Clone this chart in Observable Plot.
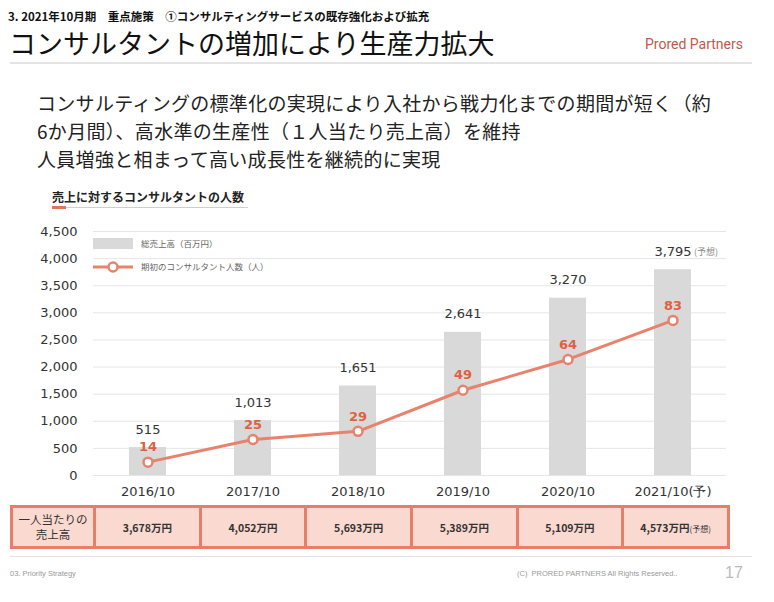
<!DOCTYPE html>
<html lang="ja">
<head>
<meta charset="utf-8">
<script src="https://cdn.jsdelivr.net/npm/d3@7"></script>
<script src="https://cdn.jsdelivr.net/npm/@observablehq/plot@0.6"></script>
<style>
  html, body { margin: 0; padding: 0; background: #fff; }
  #slide { position: relative; width: 774px; height: 602px; overflow: hidden; font-family: "Noto Sans CJK JP", "Noto Sans", sans-serif; color: #222; }
  .abs { position: absolute; white-space: nowrap; }
  #chart { position: absolute; left: 0; top: 215px; }
  #tbl { position: absolute; left: 10px; top: 505px; border-collapse: collapse; table-layout: fixed; width: 717px; }
  #tbl td { border: 3px solid #E4806A; background: #F9D9D0; text-align: center; font-size: 10.5px; font-weight: 700; color: #333; height: 38px; padding: 0; }
</style>
</head>
<body>
<div id="slide">
  <div class="abs" style="left:8px;top:9px;font-size:11.5px;font-weight:700;line-height:14px;color:#111;">3. 2021年10月期　重点施策　①コンサルティングサービスの既存強化および拡充</div>
  <div class="abs" style="left:9px;top:28px;font-size:27px;line-height:30px;color:#111;">コンサルタントの増加により生産力拡大</div>
  <div class="abs" style="right:31px;top:35px;font-size:14px;line-height:18px;color:#C0594A;font-family:Roboto,'Noto Sans',sans-serif;">Prored Partners</div>
  <div class="abs" style="left:10px;top:62px;width:742px;height:2px;background:#e4e4e4;"></div>

  <div class="abs" style="left:37px;top:89px;font-size:19px;line-height:28px;color:#222;letter-spacing:0.3px;">
    コンサルティングの標準化の実現により入社から戦力化までの期間が短く（約<br>
    6か月間）、高水準の生産性（１人当たり売上高）を維持<br>
    人員増強と相まって高い成長性を継続的に実現
  </div>

  <div class="abs" style="left:52px;top:189px;font-size:12px;font-weight:700;line-height:16px;color:#222;">売上に対するコンサルタントの人数</div>
  <div class="abs" style="left:52px;top:207px;width:196px;height:1px;background:#cfcfcf;"></div>
  <div class="abs" style="left:52px;top:206px;width:14px;height:3px;background:#E2735C;"></div>

  <div id="chart"></div>

  <!-- legend -->
  <div class="abs" style="left:93px;top:238px;width:40px;height:11px;background:#d9d9d9;"></div>
  <div class="abs" style="left:141px;top:237px;font-size:8.5px;line-height:12px;color:#666;">総売上高（百万円）</div>
  <svg class="abs" style="left:90px;top:258px;" width="46" height="18">
    <line x1="3" y1="9" x2="43" y2="9" stroke="#E8826C" stroke-width="3"></line>
    <circle cx="23" cy="9" r="4.5" fill="#fff" stroke="#E8826C" stroke-width="2.5"></circle>
  </svg>
  <div class="abs" style="left:141px;top:260px;font-size:8.5px;line-height:12px;color:#666;">期初のコンサルタント人数（人）</div>

  <table id="tbl"><colgroup id="tblcols"></colgroup><tr id="tblrow"></tr></table>

  <div class="abs" style="left:10px;top:556px;width:742px;height:1px;background:#e2e2e2;"></div>
  <div class="abs" style="left:10px;top:569px;font-size:7.5px;line-height:10px;color:#999;font-family:'Liberation Sans',sans-serif;">03. Priority Strategy</div>
  <div class="abs" style="left:517px;top:569px;font-size:7.5px;line-height:10px;color:#999;font-family:'Liberation Sans',sans-serif;">(C)&nbsp;&nbsp;PRORED PARTNERS All Rights Reserved..</div>
  <div class="abs" style="left:725px;top:563px;font-size:16px;line-height:20px;color:#bbb;font-family:'Liberation Sans',sans-serif;">17</div>
</div>

<script>
// ---- data ----
const years = ["2016/10", "2017/10", "2018/10", "2019/10", "2020/10", "2021/10(予)"];
const sales = [515, 1013, 1651, 2641, 3270, 3795];          // 総売上高（百万円）
const consultants = [14, 25, 29, 49, 64, 83];               // 期初のコンサルタント人数（人）
const salesNote = ["", "", "", "", "", "(予想)"];
const perCapita = ["3,678万円", "4,052万円", "5,693万円", "5,389万円", "5,109万円", "4,573万円"];
const perCapitaNote = ["", "", "", "", "", "(予想)"];
const rowHeader = ["一人当たりの", "売上高"];
const yTicks = [0, 500, 1000, 1500, 2000, 2500, 3000, 3500, 4000, 4500];

const data = years.map((y, i) => ({year: y, sales: sales[i], staff: consultants[i], note: salesNote[i]}));

// secondary (consultant) axis mapped onto the sales axis
const staffToSales = d3.scaleLinear().domain([7.5, 126.3]).range([0, 4500]);

const lineColor = "#E8826C";
const numFont = "'DejaVu Sans', Verdana, sans-serif";
const fmt = d3.format(",");

const chart = Plot.plot({
  width: 774,
  height: 290,
  marginLeft: 93,
  marginRight: 48,
  marginTop: 16,
  marginBottom: 30,
  style: {fontFamily: numFont, fontSize: "13px", color: "#333", background: "transparent", overflow: "visible"},
  x: {domain: years, paddingInner: 0.65, paddingOuter: 0.325, label: null},
  y: {domain: [0, 4500], label: null},
  marks: [
    Plot.gridY(yTicks, {stroke: "#e6e6e6", strokeOpacity: 1}),
    Plot.axisY(yTicks, {tickSize: 0, tickPadding: 16, tickFormat: fmt, fontSize: 13, fill: "#333", label: null}),
    Plot.axisX({tickSize: 0, tickPadding: 11, fontSize: 13, fill: "#333", label: null}),
    Plot.barY(data, {x: "year", y: "sales", fill: "#d9d9d9"}),
    Plot.text(data, {x: "year", y: "sales", text: d => fmt(d.sales), dy: -18, fontSize: 13, fill: "#333"}),
    Plot.text(data.filter(d => d.note), {x: "year", y: "sales", text: "note", dy: -18, dx: 21, textAnchor: "start", fontSize: 9, fill: "#888", fontFamily: "'Noto Sans CJK JP', sans-serif"}),
    Plot.line(data, {x: "year", y: d => staffToSales(d.staff), stroke: lineColor, strokeWidth: 3}),
    Plot.dot(data, {x: "year", y: d => staffToSales(d.staff), r: 4.5, fill: "#fff", stroke: lineColor, strokeWidth: 2.5}),
    Plot.text(data, {x: "year", y: d => staffToSales(d.staff), text: d => String(d.staff), dy: -15, fontSize: 13, fontWeight: "bold", fill: "#E0613F"})
  ]
});
document.getElementById("chart").appendChild(chart);

// ---- table ----
const cols = document.getElementById("tblcols");
[83, ...perCapita.map(() => 105.67)].forEach(w => {
  const c = document.createElement("col");
  c.style.width = w + "px";
  cols.appendChild(c);
});
const row = document.getElementById("tblrow");
const head = document.createElement("td");
head.style.fontWeight = "400";
head.style.fontSize = "11.5px";
head.style.lineHeight = "15px";
head.innerHTML = rowHeader.join("<br>");
row.appendChild(head);
perCapita.forEach((v, i) => {
  const td = document.createElement("td");
  td.innerHTML = v + (perCapitaNote[i] ? `<span style="font-size:8px;font-weight:400;">${perCapitaNote[i]}</span>` : "");
  row.appendChild(td);
});
</script>
</body>
</html>
